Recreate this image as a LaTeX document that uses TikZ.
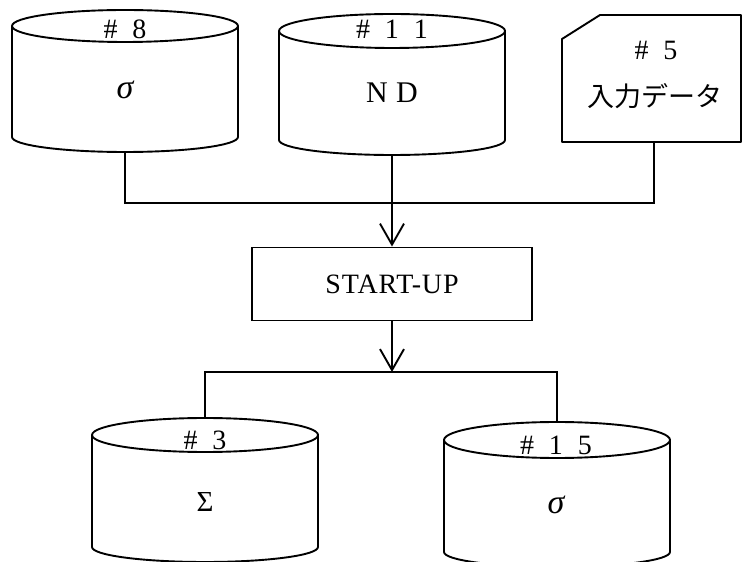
\documentclass[tikz,border=0pt]{standalone}
\usepackage{fontspec}
\setmainfont{Liberation Serif}
\newfontfamily\jpfont{Noto Sans CJK JP}
\usetikzlibrary{arrows.meta}

% one full-width character cell
\newcommand\fwc[1]{\makebox[29pt]{#1}}

% drum (disk file): name, cx, top centre y, bottom centre y, rx, top ry, bottom ry
\newcommand\drum[7]{%
  \draw[shapeline] (#2-#5,#3) -- (#2-#5,#4)
    arc[start angle=180, end angle=360, x radius=#5, y radius=#7] -- (#2+#5,#3);
  \draw[shapeline] (#2,#3) ellipse[x radius=#5, y radius=#6];
  \node[inner sep=0pt, outer sep=0pt, minimum width={2*#5*1pt},
        minimum height={(#3+#6-#4+#7)*1pt}] (#1) at (#2,{(#3+#6+#4-#7)/2}) {};%
}

\begin{document}
\begin{tikzpicture}[x=1pt, y=1pt,
  shapeline/.style={line width=1.9pt, line join=round},
  conn/.style={line width=1.9pt},
  flow/.style={line width=1.9pt, -{Straight Barb[length=21pt, width=24pt]}},
  lbl/.style={inner sep=0pt, font=\fontsize{28}{32}\selectfont},
  bigl/.style={inner sep=0pt, font=\fontsize{30}{34}\selectfont},
  sym/.style={inner sep=0pt, font=\fontsize{34}{38}\selectfont\itshape},
  usym/.style={inner sep=0pt, font=\fontsize{29}{32}\selectfont},
]
\fill[white] (0,0) rectangle (744,562);
\useasboundingbox (0,0) rectangle (744,562);

% input files
\drum{c8}{125}{536}{425}{113}{16}{15}
\node[lbl] (c8h) at (125,533) {\fwc{\#}\fwc{8}};
\node[sym] (c8s) at (125,472) {σ};

\drum{c11}{392}{531}{422}{113}{17}{15}
\node[lbl] (c11h) at (392,533) {\fwc{\#}\fwc{1}\fwc{1}};
\node[bigl] (c11s) at (392,469) {\makebox[30pt]{N}\makebox[30pt]{D}};

% punched-card input
\draw[shapeline] (600,547) -- (741,547) -- (741,420) -- (562,420) -- (562,523) -- cycle;
\node[inner sep=0pt, minimum width=179pt, minimum height=127pt] (c5) at (651.5,483.5) {};
\node[lbl] (c5h) at (656,512) {\fwc{\#}\fwc{5}};
\node[inner sep=0pt, font=\fontsize{27}{30}\selectfont\jpfont] (c5t) at (655,466) {入力データ};

% program
\node[draw, line width=1.9pt, minimum width=280pt, minimum height=73pt, inner sep=0pt,
      font=\fontsize{28}{32}\selectfont\addfontfeature{LetterSpace=3}] (start) at (392,278) {START-UP};

% output files
\drum{c3}{205}{127}{15}{113}{17}{15}
\node[lbl] (c3h) at (205,122) {\fwc{\#}\fwc{3}};
\node[usym] (c3s) at (205,60) {Σ};

\drum{c15}{557}{122}{10}{113}{18}{15}
\node[lbl] (c15h) at (556,117) {\fwc{\#}\fwc{1}\fwc{5}};
\node[sym] (c15s) at (556,57) {σ};

% connectors
\coordinate (jl) at (125,359);
\coordinate (jr) at (654,359);
\coordinate (bj) at (392,190);
\draw[conn] (c8.south) -- (jl) -- (jr) -- (jr |- c5.south);
\draw[flow] (c11.south) -- (start.north);
\draw[flow] (start.south) -- (bj);
\draw[conn] (c3.north) |- (bj) -| (c15.north);
\end{tikzpicture}
\end{document}
